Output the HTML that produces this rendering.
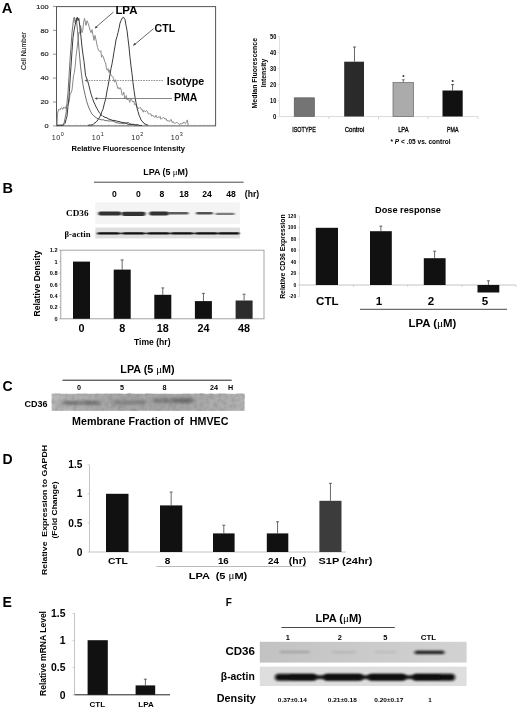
<!DOCTYPE html>
<html lang="en"><head><meta charset="utf-8"><title>Figure</title>
<style>
html,body{margin:0;padding:0;background:#fff}
svg{display:block;font-family:"Liberation Sans",sans-serif}
.sf{font-family:"Liberation Serif",serif}
</style></head><body>
<svg width="520" height="710" viewBox="0 0 520 710">
<defs>
<filter id="b1" x="-20%" y="-200%" width="140%" height="500%"><feGaussianBlur stdDeviation="1.1 0.7"/></filter>
<filter id="b3" x="-20%" y="-200%" width="140%" height="500%"><feGaussianBlur stdDeviation="0.9 0.5"/></filter>
<filter id="b4" x="-20%" y="-100%" width="140%" height="300%"><feGaussianBlur stdDeviation="1.6 1"/></filter>
<linearGradient id="gF" x1="0" x2="1" y1="0" y2="0"><stop offset="0" stop-color="#c2c2c2"/><stop offset="1" stop-color="#d2d2d2"/></linearGradient>
<linearGradient id="gC" x1="0" x2="1" y1="0" y2="0"><stop offset="0" stop-color="#b8b8b8"/><stop offset="0.35" stop-color="#a6a6a6"/><stop offset="0.7" stop-color="#a8a8a8"/><stop offset="1" stop-color="#b4b4b4"/></linearGradient>
<filter id="b2" x="-20%" y="-200%" width="140%" height="500%"><feGaussianBlur stdDeviation="2.6 1.5"/></filter>
<filter id="noise" x="0" y="0" width="100%" height="100%"><feTurbulence type="fractalNoise" baseFrequency="0.22" numOctaves="3" seed="3" result="n"/><feColorMatrix in="n" type="matrix" values="0 0 0 0 0  0 0 0 0 0  0 0 0 0 0  0.9 0 0 0 -0.3" result="a"/><feFlood flood-color="#808080"/><feComposite in2="a" operator="in" result="d"/><feMerge><feMergeNode in="SourceGraphic"/><feMergeNode in="d"/></feMerge></filter>
</defs>
<rect width="520" height="710" fill="#fff"/>
<text x="1.8" y="12.9" font-size="14.8" font-weight="bold">A</text>
<rect x="56.5" y="6.6" width="159.1" height="119.3" fill="none" stroke="#555" stroke-width="1"/>
<text x="48.6" y="8.600000000000005" font-size="5.9" text-anchor="end" textLength="12.3" lengthAdjust="spacingAndGlyphs" fill="#222" stroke="#222" stroke-width="0.15">100</text>
<line x1="53" y1="6.400000000000006" x2="56.5" y2="6.400000000000006" stroke="#666" stroke-width="0.7"/>
<text x="48.6" y="32.5" font-size="5.9" text-anchor="end" textLength="8.2" lengthAdjust="spacingAndGlyphs" fill="#222" stroke="#222" stroke-width="0.15">80</text>
<line x1="53" y1="30.299999999999997" x2="56.5" y2="30.299999999999997" stroke="#666" stroke-width="0.7"/>
<text x="48.6" y="56.400000000000006" font-size="5.9" text-anchor="end" textLength="8.2" lengthAdjust="spacingAndGlyphs" fill="#222" stroke="#222" stroke-width="0.15">60</text>
<line x1="53" y1="54.2" x2="56.5" y2="54.2" stroke="#666" stroke-width="0.7"/>
<text x="48.6" y="80.3" font-size="5.9" text-anchor="end" textLength="8.2" lengthAdjust="spacingAndGlyphs" fill="#222" stroke="#222" stroke-width="0.15">40</text>
<line x1="53" y1="78.1" x2="56.5" y2="78.1" stroke="#666" stroke-width="0.7"/>
<text x="48.6" y="104.2" font-size="5.9" text-anchor="end" textLength="8.2" lengthAdjust="spacingAndGlyphs" fill="#222" stroke="#222" stroke-width="0.15">20</text>
<line x1="53" y1="102.0" x2="56.5" y2="102.0" stroke="#666" stroke-width="0.7"/>
<text x="48.6" y="128.1" font-size="5.9" text-anchor="end" textLength="4.1" lengthAdjust="spacingAndGlyphs" fill="#222" stroke="#222" stroke-width="0.15">0</text>
<line x1="53" y1="125.9" x2="56.5" y2="125.9" stroke="#666" stroke-width="0.7"/>
<text x="51.7" y="139.6" font-size="7.2" fill="#222" letter-spacing="0.5">10<tspan dy="-3.2" font-size="5.4">0</tspan></text>
<text x="91.7" y="139.6" font-size="7.2" fill="#222" letter-spacing="0.5">10<tspan dy="-3.2" font-size="5.4">1</tspan></text>
<text x="131.2" y="139.6" font-size="7.2" fill="#222" letter-spacing="0.5">10<tspan dy="-3.2" font-size="5.4">2</tspan></text>
<text x="170.7" y="139.6" font-size="7.2" fill="#222" letter-spacing="0.5">10<tspan dy="-3.2" font-size="5.4">3</tspan></text>
<line x1="68.5" y1="126" x2="68.5" y2="124.6" stroke="#888" stroke-width="0.4"/>
<line x1="75.5" y1="126" x2="75.5" y2="124.6" stroke="#888" stroke-width="0.4"/>
<line x1="80.5" y1="126" x2="80.5" y2="124.6" stroke="#888" stroke-width="0.4"/>
<line x1="84.4" y1="126" x2="84.4" y2="124.6" stroke="#888" stroke-width="0.4"/>
<line x1="87.5" y1="126" x2="87.5" y2="124.6" stroke="#888" stroke-width="0.4"/>
<line x1="90.2" y1="126" x2="90.2" y2="124.6" stroke="#888" stroke-width="0.4"/>
<line x1="92.5" y1="126" x2="92.5" y2="124.6" stroke="#888" stroke-width="0.4"/>
<line x1="94.6" y1="126" x2="94.6" y2="124.6" stroke="#888" stroke-width="0.4"/>
<line x1="108.4" y1="126" x2="108.4" y2="124.6" stroke="#888" stroke-width="0.4"/>
<line x1="115.4" y1="126" x2="115.4" y2="124.6" stroke="#888" stroke-width="0.4"/>
<line x1="120.4" y1="126" x2="120.4" y2="124.6" stroke="#888" stroke-width="0.4"/>
<line x1="124.3" y1="126" x2="124.3" y2="124.6" stroke="#888" stroke-width="0.4"/>
<line x1="127.4" y1="126" x2="127.4" y2="124.6" stroke="#888" stroke-width="0.4"/>
<line x1="130.1" y1="126" x2="130.1" y2="124.6" stroke="#888" stroke-width="0.4"/>
<line x1="132.4" y1="126" x2="132.4" y2="124.6" stroke="#888" stroke-width="0.4"/>
<line x1="134.5" y1="126" x2="134.5" y2="124.6" stroke="#888" stroke-width="0.4"/>
<line x1="148.3" y1="126" x2="148.3" y2="124.6" stroke="#888" stroke-width="0.4"/>
<line x1="155.3" y1="126" x2="155.3" y2="124.6" stroke="#888" stroke-width="0.4"/>
<line x1="160.3" y1="126" x2="160.3" y2="124.6" stroke="#888" stroke-width="0.4"/>
<line x1="164.2" y1="126" x2="164.2" y2="124.6" stroke="#888" stroke-width="0.4"/>
<line x1="167.3" y1="126" x2="167.3" y2="124.6" stroke="#888" stroke-width="0.4"/>
<line x1="170.0" y1="126" x2="170.0" y2="124.6" stroke="#888" stroke-width="0.4"/>
<line x1="172.3" y1="126" x2="172.3" y2="124.6" stroke="#888" stroke-width="0.4"/>
<line x1="174.4" y1="126" x2="174.4" y2="124.6" stroke="#888" stroke-width="0.4"/>
<line x1="188.2" y1="126" x2="188.2" y2="124.6" stroke="#888" stroke-width="0.4"/>
<line x1="195.2" y1="126" x2="195.2" y2="124.6" stroke="#888" stroke-width="0.4"/>
<line x1="200.2" y1="126" x2="200.2" y2="124.6" stroke="#888" stroke-width="0.4"/>
<line x1="204.1" y1="126" x2="204.1" y2="124.6" stroke="#888" stroke-width="0.4"/>
<line x1="207.2" y1="126" x2="207.2" y2="124.6" stroke="#888" stroke-width="0.4"/>
<line x1="209.9" y1="126" x2="209.9" y2="124.6" stroke="#888" stroke-width="0.4"/>
<line x1="212.2" y1="126" x2="212.2" y2="124.6" stroke="#888" stroke-width="0.4"/>
<line x1="214.3" y1="126" x2="214.3" y2="124.6" stroke="#888" stroke-width="0.4"/>
<text x="26.4" y="51" font-size="6.3" text-anchor="middle" textLength="38" lengthAdjust="spacingAndGlyphs" transform="rotate(-90 26.4 51)" fill="#222" stroke="#222" stroke-width="0.12">Cell Number</text>
<text x="71.5" y="150.5" font-size="7.7" font-weight="bold" textLength="113.5" lengthAdjust="spacingAndGlyphs">Relative Fluorescence Intensity</text>
<polyline points="57.0,125.9 57.5,114.0 58.5,109.2 59.4,109.6 60.2,109.9 61.1,107.7 62.0,108.0 62.8,109.4 63.6,107.1 64.4,107.5 65.2,108.5 66.0,106.2 67.0,105.3 68.0,104.4 69.0,102.4 70.0,94.8 71.0,92.9 72.0,90.1 73.5,75.7 74.3,72.8 75.2,66.3 76.0,56.6 77.0,48.8 78.0,39.9 78.8,32.4 79.7,33.4 80.5,25.5 82.0,32.7 82.8,30.2 83.7,22.1 84.5,18.3 86.0,25.5 87.0,20.7 88.0,23.1 89.0,26.1 90.0,30.3 91.0,32.7 92.0,29.6 93.0,35.1 94.0,40.4 95.0,35.4 96.0,39.9 96.8,44.0 97.6,47.5 98.4,50.1 99.2,51.0 100.0,51.8 100.8,50.7 101.6,57.3 102.4,55.4 103.2,56.4 104.0,59.0 104.8,61.9 105.6,62.4 106.4,68.3 107.2,70.2 108.0,68.5 108.8,72.4 109.6,69.9 110.4,73.4 111.2,75.8 112.0,75.7 112.8,76.6 113.7,79.3 114.5,82.1 115.3,79.7 116.2,82.1 117.0,85.3 117.9,88.7 118.7,87.4 119.6,89.2 120.4,87.7 121.3,90.3 122.1,95.0 123.0,94.8 123.8,92.1 124.7,98.6 125.5,97.2 126.3,95.5 127.2,100.0 128.0,98.4 128.8,99.1 129.7,102.4 130.5,99.2 131.3,99.3 132.2,101.0 133.0,102.0 133.8,101.0 134.7,104.9 135.5,104.1 136.3,105.6 137.2,106.6 138.0,108.0 138.9,108.6 139.8,107.6 140.6,107.6 141.5,109.9 142.4,109.6 143.2,112.2 144.1,110.4 145.0,111.6 145.8,111.5 146.7,110.7 147.5,111.7 148.3,113.9 149.2,113.9 150.0,114.0 150.8,113.7 151.7,116.2 152.6,115.0 153.4,116.3 154.2,116.8 155.1,117.2 155.9,115.1 156.8,117.6 157.7,117.5 158.5,116.9 159.3,117.6 160.1,116.3 160.9,119.3 161.8,118.3 162.6,118.3 163.4,117.4 164.2,117.9 165.0,119.3 166.0,118.5 167.0,120.9 168.0,120.5 168.8,121.0 169.7,121.4 170.5,119.7 171.3,119.7 172.2,122.6 173.0,121.6 173.8,122.9 174.7,123.0 175.5,123.2 176.3,122.6 177.2,122.5 178.0,123.0 178.8,123.9 179.7,124.9 180.5,123.5 181.3,123.8 182.2,123.2 183.0,123.5 183.8,122.0 184.7,123.0 185.5,123.7 186.4,121.8 187.3,119.9 188.3,125.5" fill="none" stroke="#8c8c8c" stroke-width="1.0" stroke-linejoin="round"/>
<polyline points="57.0,125.3 58.0,125.2 59.0,125.2 60.0,125.7 61.0,125.0 62.0,125.3 63.0,124.2 64.0,123.5 65.0,118.4 66.0,114.0 67.0,102.8 68.0,92.4 69.0,76.5 70.0,60.2 71.0,46.6 72.0,32.7 73.5,19.5 74.3,17.2 75.3,23.1 76.3,18.3 77.5,30.3 79.0,49.4 80.5,66.2 82.0,78.1 83.0,84.8 84.0,90.1 85.2,95.2 86.5,100.8 87.8,104.9 89.0,108.0 90.0,110.3 91.0,112.2 92.0,114.0 93.0,115.1 94.0,115.9 95.0,117.0 96.0,117.5 97.0,118.4 98.0,118.7 99.0,119.2 100.0,119.3 101.0,119.6 102.0,120.1 103.0,119.6 104.0,120.0 105.0,120.6 106.0,120.5 107.0,120.8 108.0,120.8 109.0,120.9 110.0,121.2 111.0,120.7 112.0,121.1 113.0,121.0 114.0,121.7 115.0,122.0 116.0,122.6 117.0,122.9 118.0,122.9 119.0,123.1 120.0,123.3 121.0,122.9 122.0,123.6 123.0,123.8 124.0,123.5 125.0,122.8 126.0,122.9 127.0,122.9 128.0,122.3 129.0,122.9 130.0,123.9 131.0,124.1 132.0,124.7 133.0,124.4 134.0,124.6 135.0,124.8 136.0,125.3 137.0,125.3 138,125.3" fill="none" stroke="#707070" stroke-width="1.0" stroke-linejoin="round"/>
<polyline points="57.0,125.3 58.0,125.6 59.0,125.1 60.0,125.3 61.0,125.1 62.0,125.4 63.0,125.3 64.0,124.6 65.0,123.5 66.0,119.7 67.0,116.3 68.0,106.3 69.0,97.2 70.0,81.0 71.0,66.2 72.0,51.2 73.0,37.5 74.0,30.9 75.0,25.5 76.5,19.5 77.3,17.2 78.0,20.7 78.8,18.3 80.0,27.9 81.0,37.0 82.0,47.0 83.0,54.7 84.0,61.4 85.6,75.7 87.5,80.5 88.8,85.2 90.0,90.1 91.2,94.5 92.5,98.4 93.8,102.0 95.0,104.4 96.0,106.9 97.0,108.6 98.0,110.4 99.0,112.2 100.0,113.4 101.0,115.1 102.0,115.4 103.0,116.4 104.0,116.6 105.0,117.5 106.0,117.5 107.0,117.9 108.0,118.7 109.0,119.2 110.0,119.3 111.0,119.8 112.0,120.2 113.0,120.5 114.0,120.4 115.0,120.5 116.0,121.1 117.0,121.0 118.0,121.5 119.0,121.6 120.0,121.7 121.0,122.4 122.0,122.3 123.0,122.5 124.0,122.6 125.0,123.0 126.0,123.3 127.0,123.8 128.0,124.1 129.0,124.5 130.0,124.1 131.0,124.5 132.0,124.3 133.0,124.2 134.0,124.7 135.0,124.9 136.0,124.9 137.0,124.6 138.0,124.8 139.0,125.3 140.0,125.5 141.0,125.5 142,125.3" fill="none" stroke="#3a3a3a" stroke-width="1.0" stroke-linejoin="round"/>
<polyline points="88.0,125.5 89.0,125.0 90.0,125.0 91.0,125.3 92.0,124.6 93.0,124.7 94.0,123.4 95.0,122.8 96.0,122.1 97.0,121.1 98.0,119.5 99.0,118.2 100.0,116.3 101.0,114.3 102.0,111.2 103.0,109.2 104.0,105.0 105.0,101.2 106.0,97.2 107.0,90.9 108.0,86.2 109.0,80.5 110.0,74.2 111.0,68.7 112.0,63.8 113.0,58.3 114.0,51.8 115.0,46.3 116.0,39.9 117.0,36.7 118.0,32.7 119.0,28.4 120.0,23.1 121.0,20.6 122.0,18.3 123.5,17.2 125.0,19.5 126.0,25.4 127.0,30.3 128.0,38.8 129.0,47.0 130.0,57.3 131.0,66.2 132.0,73.7 133.0,82.9 134.0,90.3 135.0,97.2 136.0,102.6 137.0,108.0 138.0,111.5 139.0,115.1 140.0,117.2 141.0,119.9 142.0,121.2 143.0,122.0 144.0,123.5 145.0,124.0 146.0,124.4 147.0,124.8 148,125.3" fill="none" stroke="#3a3a3a" stroke-width="1.0" stroke-linejoin="round"/>
<line x1="113.5" y1="12" x2="95" y2="28" stroke="#444" stroke-width="0.8"/>
<path d="M94.6 28.6 l3.2 -1 l-1.8 -1.9z" fill="#444"/>
<line x1="153.6" y1="28.6" x2="133.6" y2="45.4" stroke="#444" stroke-width="0.8"/>
<path d="M133 45.6 l3.2 -1 l-1.8 -1.9z" fill="#444"/>
<line x1="86" y1="80.5" x2="163" y2="80.5" stroke="#777" stroke-width="0.8" stroke-dasharray="1.6 1"/>
<path d="M84.6 80.5 l2.6 -1.3 v2.6z" fill="#555"/>
<line x1="96" y1="98.5" x2="172" y2="98.5" stroke="#666" stroke-width="0.8"/>
<path d="M94.6 98.5 l2.6 -1.3 v2.6z" fill="#444"/>
<text x="115.4" y="14.4" font-size="11.5" font-weight="bold" textLength="22" lengthAdjust="spacingAndGlyphs">LPA</text>
<text x="154.6" y="31.9" font-size="11" font-weight="bold" textLength="20.5" lengthAdjust="spacingAndGlyphs">CTL</text>
<text x="166.8" y="84.8" font-size="11.2" font-weight="bold" textLength="37.5" lengthAdjust="spacingAndGlyphs">Isotype</text>
<text x="174" y="101.3" font-size="11" font-weight="bold" textLength="23.5" lengthAdjust="spacingAndGlyphs">PMA</text>
<line x1="279.5" y1="36" x2="279.5" y2="116.5" stroke="#e2e2e2" stroke-width="1"/>
<line x1="279.5" y1="116.5" x2="478" y2="116.5" stroke="#dcdcdc" stroke-width="1"/>
<text x="276.3" y="119.2" font-size="7.5" font-weight="bold" text-anchor="end" textLength="3.3" lengthAdjust="spacingAndGlyphs">0</text>
<line x1="277.5" y1="116.5" x2="279.5" y2="116.5" stroke="#dcdcdc" stroke-width="0.8"/>
<text x="276.3" y="103.2" font-size="7.5" font-weight="bold" text-anchor="end" textLength="6.2" lengthAdjust="spacingAndGlyphs">10</text>
<line x1="277.5" y1="100.5" x2="279.5" y2="100.5" stroke="#dcdcdc" stroke-width="0.8"/>
<text x="276.3" y="87.2" font-size="7.5" font-weight="bold" text-anchor="end" textLength="6.2" lengthAdjust="spacingAndGlyphs">20</text>
<line x1="277.5" y1="84.5" x2="279.5" y2="84.5" stroke="#dcdcdc" stroke-width="0.8"/>
<text x="276.3" y="71.2" font-size="7.5" font-weight="bold" text-anchor="end" textLength="6.2" lengthAdjust="spacingAndGlyphs">30</text>
<line x1="277.5" y1="68.5" x2="279.5" y2="68.5" stroke="#dcdcdc" stroke-width="0.8"/>
<text x="276.3" y="55.2" font-size="7.5" font-weight="bold" text-anchor="end" textLength="6.2" lengthAdjust="spacingAndGlyphs">40</text>
<line x1="277.5" y1="52.5" x2="279.5" y2="52.5" stroke="#dcdcdc" stroke-width="0.8"/>
<text x="276.3" y="39.2" font-size="7.5" font-weight="bold" text-anchor="end" textLength="6.2" lengthAdjust="spacingAndGlyphs">50</text>
<line x1="277.5" y1="36.5" x2="279.5" y2="36.5" stroke="#dcdcdc" stroke-width="0.8"/>
<line x1="329" y1="116.5" x2="329" y2="119.0" stroke="#c8c8c8" stroke-width="0.8"/>
<line x1="378.5" y1="116.5" x2="378.5" y2="119.0" stroke="#c8c8c8" stroke-width="0.8"/>
<line x1="428" y1="116.5" x2="428" y2="119.0" stroke="#c8c8c8" stroke-width="0.8"/>
<line x1="478" y1="116.5" x2="478" y2="119.0" stroke="#c8c8c8" stroke-width="0.8"/>
<rect x="294.2" y="97.8" width="20.3" height="18.7" fill="#747474" stroke="#555" stroke-width="0.6"/>
<line x1="354.5" y1="61.7" x2="354.5" y2="47" stroke="#444" stroke-width="0.8"/>
<line x1="353.0" y1="47" x2="356.0" y2="47" stroke="#444" stroke-width="0.8"/>
<rect x="344.2" y="61.7" width="19.8" height="54.8" fill="#2a2a2a"/>
<line x1="403.3" y1="82.5" x2="403.3" y2="79.8" stroke="#555" stroke-width="0.8"/>
<line x1="401.8" y1="79.8" x2="404.8" y2="79.8" stroke="#555" stroke-width="0.8"/>
<rect x="393" y="82.5" width="20.5" height="34" fill="#ababab" stroke="#666" stroke-width="0.7"/>
<line x1="452.6" y1="90.5" x2="452.6" y2="84.6" stroke="#333" stroke-width="0.8"/>
<line x1="451.1" y1="84.6" x2="454.1" y2="84.6" stroke="#333" stroke-width="0.8"/>
<rect x="442.5" y="90.5" width="20.2" height="26" fill="#111"/>
<text x="403.3" y="79" font-size="6" font-weight="bold" text-anchor="middle">*</text>
<text x="452.6" y="83.6" font-size="6" font-weight="bold" text-anchor="middle">*</text>
<text x="304" y="131.6" font-size="7.4" text-anchor="middle" textLength="23.5" lengthAdjust="spacingAndGlyphs" stroke="#000" stroke-width="0.3">ISOTYPE</text>
<text x="354.5" y="131.6" font-size="7.4" text-anchor="middle" textLength="19.5" lengthAdjust="spacingAndGlyphs" stroke="#000" stroke-width="0.3">Control</text>
<text x="403.4" y="131.6" font-size="7.4" text-anchor="middle" textLength="10.5" lengthAdjust="spacingAndGlyphs" stroke="#000" stroke-width="0.3">LPA</text>
<text x="452.7" y="131.6" font-size="7.4" text-anchor="middle" textLength="11.5" lengthAdjust="spacingAndGlyphs" stroke="#000" stroke-width="0.3">PMA</text>
<text x="390.5" y="143.6" font-size="7.2" font-weight="bold" textLength="60" lengthAdjust="spacingAndGlyphs">* <tspan font-style="italic">P</tspan> &lt; .05 vs. control</text>
<text x="257.4" y="73.2" font-size="7.6" font-weight="bold" text-anchor="middle" textLength="70.5" lengthAdjust="spacingAndGlyphs" transform="rotate(-90 257.4 73.2)">Median Fluorescence</text>
<text x="266" y="73" font-size="7.6" font-weight="bold" text-anchor="middle" textLength="28.5" lengthAdjust="spacingAndGlyphs" transform="rotate(-90 266 73)">Intensity</text>
<text x="2.5" y="193.2" font-size="14.5" font-weight="bold">B</text>
<text x="165.6" y="175.3" font-size="8.9" font-weight="bold" text-anchor="middle">LPA (5 <tspan class="sf" font-weight="normal">μ</tspan>M)</text>
<line x1="94" y1="182.2" x2="243.6" y2="182.2" stroke="#333" stroke-width="0.9"/>
<text x="114.5" y="197.4" font-size="8.6" font-weight="bold" text-anchor="middle">0</text>
<text x="138.4" y="197.4" font-size="8.6" font-weight="bold" text-anchor="middle">0</text>
<text x="162" y="197.4" font-size="8.6" font-weight="bold" text-anchor="middle">8</text>
<text x="184" y="197.4" font-size="8.6" font-weight="bold" text-anchor="middle">18</text>
<text x="207" y="197.4" font-size="8.6" font-weight="bold" text-anchor="middle">24</text>
<text x="231" y="197.4" font-size="8.6" font-weight="bold" text-anchor="middle">48</text>
<text x="252" y="197.4" font-size="8.6" font-weight="bold" text-anchor="middle">(hr)</text>
<text x="66" y="216" font-size="8.2" font-weight="bold" textLength="22.5" lengthAdjust="spacingAndGlyphs" class="sf">CD36</text>
<text x="64.5" y="237" font-size="8.2" font-weight="bold" textLength="26" lengthAdjust="spacingAndGlyphs" class="sf">β-actin</text>
<rect x="95.3" y="202.4" width="144.6" height="21.4" fill="#f4f4f4"/>
<rect x="95.3" y="227.6" width="144.6" height="10.8" fill="#dedede"/>
<rect x="98.2" y="211.6" width="23.2" height="4" rx="2.0" fill="#1c1c1c" opacity="0.9" filter="url(#b1)"/>
<rect x="121.6" y="211.7" width="24.0" height="4.2" rx="2.1" fill="#1c1c1c" opacity="0.9" filter="url(#b1)"/>
<rect x="149.2" y="211.6" width="19.6" height="4" rx="2.0" fill="#1c1c1c" opacity="0.9" filter="url(#b1)"/>
<rect x="168.0" y="212.0" width="20.5" height="2.4" rx="1.2" fill="#1c1c1c" opacity="0.7" filter="url(#b1)"/>
<rect x="196.0" y="212.0" width="17" height="2.6" rx="1.3" fill="#1c1c1c" opacity="0.75" filter="url(#b1)"/>
<rect x="215.5" y="212.8" width="19.1" height="2.2" rx="1.1" fill="#1c1c1c" opacity="0.55" filter="url(#b1)"/>
<rect x="97" y="232.6" width="141" height="1.6" fill="#222" filter="url(#b3)" opacity="0.85"/>
<rect x="98.0" y="232.2" width="21" height="2.4" rx="1.2" fill="#111" opacity="0.9" filter="url(#b3)"/>
<rect x="123.0" y="232.2" width="21" height="2.4" rx="1.2" fill="#111" opacity="0.9" filter="url(#b3)"/>
<rect x="148.0" y="232.2" width="21" height="2.4" rx="1.2" fill="#111" opacity="0.9" filter="url(#b3)"/>
<rect x="171.5" y="232.2" width="21" height="2.4" rx="1.2" fill="#111" opacity="0.9" filter="url(#b3)"/>
<rect x="196.0" y="232.2" width="21" height="2.4" rx="1.2" fill="#111" opacity="0.9" filter="url(#b3)"/>
<rect x="218.5" y="232.2" width="21" height="2.4" rx="1.2" fill="#111" opacity="0.9" filter="url(#b3)"/>
<rect x="60.8" y="250.2" width="203.2" height="68.60000000000002" fill="none" stroke="#9a9a9a" stroke-width="0.9"/>
<text x="57.5" y="252.29999999999998" font-size="5.6" font-weight="bold" text-anchor="end">1.2</text>
<line x1="59.3" y1="250.2" x2="60.8" y2="250.2" stroke="#9a9a9a" stroke-width="0.7"/>
<text x="57.5" y="263.73333333333335" font-size="5.6" font-weight="bold" text-anchor="end">1</text>
<line x1="59.3" y1="261.6333333333333" x2="60.8" y2="261.6333333333333" stroke="#9a9a9a" stroke-width="0.7"/>
<text x="57.5" y="275.1666666666667" font-size="5.6" font-weight="bold" text-anchor="end">0.8</text>
<line x1="59.3" y1="273.06666666666666" x2="60.8" y2="273.06666666666666" stroke="#9a9a9a" stroke-width="0.7"/>
<text x="57.5" y="286.6" font-size="5.6" font-weight="bold" text-anchor="end">0.6</text>
<line x1="59.3" y1="284.5" x2="60.8" y2="284.5" stroke="#9a9a9a" stroke-width="0.7"/>
<text x="57.5" y="298.03333333333336" font-size="5.6" font-weight="bold" text-anchor="end">0.4</text>
<line x1="59.3" y1="295.93333333333334" x2="60.8" y2="295.93333333333334" stroke="#9a9a9a" stroke-width="0.7"/>
<text x="57.5" y="309.4666666666667" font-size="5.6" font-weight="bold" text-anchor="end">0.2</text>
<line x1="59.3" y1="307.3666666666667" x2="60.8" y2="307.3666666666667" stroke="#9a9a9a" stroke-width="0.7"/>
<text x="57.5" y="320.90000000000003" font-size="5.6" font-weight="bold" text-anchor="end">0</text>
<line x1="59.3" y1="318.8" x2="60.8" y2="318.8" stroke="#9a9a9a" stroke-width="0.7"/>
<rect x="73.0" y="261.6" width="17" height="57.2" fill="#111"/>
<text x="81.5" y="331.6" font-size="10.8" font-weight="bold" text-anchor="middle">0</text>
<line x1="122.16" y1="269.63666666666666" x2="122.16" y2="259.9183333333333" stroke="#444" stroke-width="0.8"/>
<line x1="120.66" y1="259.9183333333333" x2="123.66" y2="259.9183333333333" stroke="#444" stroke-width="0.8"/>
<rect x="113.7" y="269.6" width="17" height="49.2" fill="#111"/>
<text x="122.2" y="331.6" font-size="10.8" font-weight="bold" text-anchor="middle">8</text>
<line x1="162.79999999999998" y1="294.79" x2="162.79999999999998" y2="287.93" stroke="#444" stroke-width="0.8"/>
<line x1="161.29999999999998" y1="287.93" x2="164.29999999999998" y2="287.93" stroke="#444" stroke-width="0.8"/>
<rect x="154.3" y="294.8" width="17" height="24.0" fill="#111"/>
<text x="162.8" y="331.6" font-size="10.8" font-weight="bold" text-anchor="middle">18</text>
<line x1="203.44000000000003" y1="301.0783333333333" x2="203.44000000000003" y2="293.36083333333335" stroke="#444" stroke-width="0.8"/>
<line x1="201.94000000000003" y1="293.36083333333335" x2="204.94000000000003" y2="293.36083333333335" stroke="#444" stroke-width="0.8"/>
<rect x="194.9" y="301.1" width="17" height="17.7" fill="#111"/>
<text x="203.4" y="331.6" font-size="10.8" font-weight="bold" text-anchor="middle">24</text>
<line x1="244.08" y1="300.50666666666666" x2="244.08" y2="294.21833333333336" stroke="#444" stroke-width="0.8"/>
<line x1="242.58" y1="294.21833333333336" x2="245.58" y2="294.21833333333336" stroke="#444" stroke-width="0.8"/>
<rect x="235.6" y="300.5" width="17" height="18.3" fill="#2c2c2c"/>
<text x="244.1" y="331.6" font-size="10.8" font-weight="bold" text-anchor="middle">48</text>
<text x="134" y="344.8" font-size="8.8" font-weight="bold" textLength="36.5" lengthAdjust="spacingAndGlyphs">Time (hr)</text>
<text x="40.3" y="283.5" font-size="9" font-weight="bold" text-anchor="middle" textLength="66" lengthAdjust="spacingAndGlyphs" transform="rotate(-90 40.3 283.5)">Relative Density</text>
<text x="375" y="213" font-size="9.6" font-weight="bold" textLength="66" lengthAdjust="spacingAndGlyphs">Dose response</text>
<line x1="299.5" y1="216" x2="299.5" y2="296.6" stroke="#dcdcdc" stroke-width="1"/>
<line x1="299.5" y1="285.0" x2="516" y2="285.0" stroke="#c4c4c4" stroke-width="1"/>
<text x="296.2" y="298.4" font-size="5" font-weight="bold" text-anchor="end">-20</text>
<line x1="298.0" y1="296.5" x2="299.5" y2="296.5" stroke="#c4c4c4" stroke-width="0.7"/>
<text x="296.2" y="286.9" font-size="5" font-weight="bold" text-anchor="end">0</text>
<line x1="298.0" y1="285.0" x2="299.5" y2="285.0" stroke="#c4c4c4" stroke-width="0.7"/>
<text x="296.2" y="275.4" font-size="5" font-weight="bold" text-anchor="end">20</text>
<line x1="298.0" y1="273.5" x2="299.5" y2="273.5" stroke="#c4c4c4" stroke-width="0.7"/>
<text x="296.2" y="263.9" font-size="5" font-weight="bold" text-anchor="end">40</text>
<line x1="298.0" y1="262.0" x2="299.5" y2="262.0" stroke="#c4c4c4" stroke-width="0.7"/>
<text x="296.2" y="252.4" font-size="5" font-weight="bold" text-anchor="end">60</text>
<line x1="298.0" y1="250.5" x2="299.5" y2="250.5" stroke="#c4c4c4" stroke-width="0.7"/>
<text x="296.2" y="240.9" font-size="5" font-weight="bold" text-anchor="end">80</text>
<line x1="298.0" y1="239.0" x2="299.5" y2="239.0" stroke="#c4c4c4" stroke-width="0.7"/>
<text x="296.2" y="229.4" font-size="5" font-weight="bold" text-anchor="end">100</text>
<line x1="298.0" y1="227.5" x2="299.5" y2="227.5" stroke="#c4c4c4" stroke-width="0.7"/>
<text x="296.2" y="217.9" font-size="5" font-weight="bold" text-anchor="end">120</text>
<line x1="298.0" y1="216.0" x2="299.5" y2="216.0" stroke="#c4c4c4" stroke-width="0.7"/>
<line x1="353.6" y1="285.0" x2="353.6" y2="287.0" stroke="#c4c4c4" stroke-width="0.7"/>
<line x1="407.7" y1="285.0" x2="407.7" y2="287.0" stroke="#c4c4c4" stroke-width="0.7"/>
<line x1="461.8" y1="285.0" x2="461.8" y2="287.0" stroke="#c4c4c4" stroke-width="0.7"/>
<line x1="516" y1="285.0" x2="516" y2="287.0" stroke="#c4c4c4" stroke-width="0.7"/>
<line x1="380.9" y1="231.2" x2="380.9" y2="226.2" stroke="#444" stroke-width="0.8"/>
<line x1="379.4" y1="226.2" x2="382.4" y2="226.2" stroke="#444" stroke-width="0.8"/>
<line x1="434.6" y1="258.2" x2="434.6" y2="251.2" stroke="#444" stroke-width="0.8"/>
<line x1="433.1" y1="251.2" x2="436.1" y2="251.2" stroke="#444" stroke-width="0.8"/>
<line x1="488.4" y1="285" x2="488.4" y2="280.8" stroke="#444" stroke-width="0.8"/>
<line x1="486.9" y1="280.8" x2="489.9" y2="280.8" stroke="#444" stroke-width="0.8"/>
<rect x="315.8" y="227.8" width="22.2" height="57.2" fill="#111"/>
<rect x="370" y="231.2" width="21.8" height="53.8" fill="#111"/>
<rect x="423.8" y="258.2" width="21.8" height="26.8" fill="#111"/>
<rect x="477.5" y="285" width="21.8" height="7.5" fill="#111"/>
<text x="327.3" y="305.4" font-size="11.8" font-weight="bold" text-anchor="middle" textLength="22.5" lengthAdjust="spacingAndGlyphs">CTL</text>
<text x="379" y="305.4" font-size="11.6" font-weight="bold" text-anchor="middle">1</text>
<text x="431" y="305.4" font-size="11.6" font-weight="bold" text-anchor="middle">2</text>
<text x="485" y="305.4" font-size="11.6" font-weight="bold" text-anchor="middle">5</text>
<line x1="360" y1="309.3" x2="507" y2="309.3" stroke="#333" stroke-width="0.9"/>
<text x="408.5" y="327" font-size="11.4" font-weight="bold">LPA (<tspan class="sf" font-weight="normal">μ</tspan>M)</text>
<text x="284.8" y="256.6" font-size="7.4" font-weight="bold" text-anchor="middle" textLength="84.5" lengthAdjust="spacingAndGlyphs" transform="rotate(-90 284.8 256.6)">Relative CD36 Expression</text>
<text x="2.5" y="391" font-size="14" font-weight="bold">C</text>
<text x="147.5" y="373.2" font-size="10.8" font-weight="bold" text-anchor="middle">LPA (5 <tspan class="sf" font-weight="normal">μ</tspan>M)</text>
<line x1="62.5" y1="380.2" x2="231.7" y2="380.2" stroke="#222" stroke-width="1"/>
<text x="79" y="390.4" font-size="7.2" font-weight="bold" text-anchor="middle">0</text>
<text x="122" y="390.4" font-size="7.2" font-weight="bold" text-anchor="middle">5</text>
<text x="164.4" y="390.4" font-size="7.2" font-weight="bold" text-anchor="middle">8</text>
<text x="214" y="390.4" font-size="7.2" font-weight="bold" text-anchor="middle">24</text>
<text x="230.6" y="390.4" font-size="7.2" font-weight="bold" text-anchor="middle">H</text>
<text x="24.5" y="406.8" font-size="8.4" font-weight="bold" textLength="23" lengthAdjust="spacingAndGlyphs">CD36</text>
<g filter="url(#noise)">
<rect x="51.8" y="393.8" width="192.7" height="17" fill="url(#gC)"/>
</g>
<rect x="62.0" y="400.9" width="20" height="4.2" rx="2.1" fill="#3a3a3a" opacity="0.5" filter="url(#b2)"/>
<rect x="82.0" y="400.9" width="19" height="4.2" rx="2.1" fill="#3a3a3a" opacity="0.5" filter="url(#b2)"/>
<rect x="112.0" y="400.4" width="34" height="4.2" rx="2.1" fill="#3a3a3a" opacity="0.32" filter="url(#b2)"/>
<rect x="152.0" y="398.5" width="42" height="4.2" rx="2.1" fill="#3a3a3a" opacity="0.4" filter="url(#b2)"/>
<rect x="174.0" y="398.3" width="19" height="4.2" rx="2.1" fill="#3a3a3a" opacity="0.28" filter="url(#b2)"/>
<text x="72" y="424.6" font-size="10.6" font-weight="bold" textLength="156.5" lengthAdjust="spacingAndGlyphs" style="white-space:pre">Membrane Fraction of  HMVEC</text>
<text x="2.5" y="464" font-size="14" font-weight="bold">D</text>
<line x1="89.5" y1="465" x2="89.5" y2="552.0" stroke="#c4c4c4" stroke-width="1"/>
<line x1="89.5" y1="552.0" x2="346" y2="552.0" stroke="#c4c4c4" stroke-width="1"/>
<text x="82.5" y="468.3" font-size="10.2" font-weight="bold" text-anchor="end">1.5</text>
<line x1="87.5" y1="464.7" x2="89.5" y2="464.7" stroke="#c4c4c4" stroke-width="0.8"/>
<text x="82.5" y="497.40000000000003" font-size="10.2" font-weight="bold" text-anchor="end">1</text>
<line x1="87.5" y1="493.8" x2="89.5" y2="493.8" stroke="#c4c4c4" stroke-width="0.8"/>
<text x="82.5" y="526.5" font-size="10.2" font-weight="bold" text-anchor="end">0.5</text>
<line x1="87.5" y1="522.9" x2="89.5" y2="522.9" stroke="#c4c4c4" stroke-width="0.8"/>
<text x="82.5" y="555.6" font-size="10.2" font-weight="bold" text-anchor="end">0</text>
<line x1="87.5" y1="552.0" x2="89.5" y2="552.0" stroke="#c4c4c4" stroke-width="0.8"/>
<rect x="106" y="493.8" width="22.5" height="58.2" fill="#111"/>
<line x1="171.15" y1="505.44" x2="171.15" y2="492.054" stroke="#444" stroke-width="0.8"/>
<line x1="169.65" y1="492.054" x2="172.65" y2="492.054" stroke="#444" stroke-width="0.8"/>
<rect x="160" y="505.4" width="22.3" height="46.6" fill="#111"/>
<line x1="223.8" y1="533.376" x2="223.8" y2="525.228" stroke="#444" stroke-width="0.8"/>
<line x1="222.3" y1="525.228" x2="225.3" y2="525.228" stroke="#444" stroke-width="0.8"/>
<rect x="213" y="533.4" width="21.6" height="18.6" fill="#111"/>
<line x1="277.55" y1="533.376" x2="277.55" y2="521.736" stroke="#444" stroke-width="0.8"/>
<line x1="276.05" y1="521.736" x2="279.05" y2="521.736" stroke="#444" stroke-width="0.8"/>
<rect x="266.8" y="533.4" width="21.5" height="18.6" fill="#111"/>
<line x1="330.45" y1="500.784" x2="330.45" y2="483.324" stroke="#444" stroke-width="0.8"/>
<line x1="328.95" y1="483.324" x2="331.95" y2="483.324" stroke="#444" stroke-width="0.8"/>
<rect x="319.4" y="500.8" width="22.1" height="51.2" fill="#3c3c3c"/>
<text x="117.9" y="563.5" font-size="9.4" font-weight="bold" text-anchor="middle" textLength="20" lengthAdjust="spacingAndGlyphs">CTL</text>
<text x="167.6" y="563.5" font-size="9.4" font-weight="bold" text-anchor="middle" textLength="5.6" lengthAdjust="spacingAndGlyphs">8</text>
<text x="223.3" y="563.5" font-size="9.4" font-weight="bold" text-anchor="middle" textLength="10.8" lengthAdjust="spacingAndGlyphs">16</text>
<text x="273.4" y="563.5" font-size="9.4" font-weight="bold" text-anchor="middle" textLength="10.8" lengthAdjust="spacingAndGlyphs">24</text>
<text x="297.5" y="563.5" font-size="9.4" font-weight="bold" text-anchor="middle" textLength="17.4" lengthAdjust="spacingAndGlyphs">(hr)</text>
<text x="318.5" y="563.5" font-size="9.4" font-weight="bold" textLength="54" lengthAdjust="spacingAndGlyphs">S1P (24hr)</text>
<line x1="156.6" y1="566.5" x2="306" y2="566.5" stroke="#aaa" stroke-width="0.8"/>
<text x="188.8" y="579.4" font-size="9.4" font-weight="bold" style="white-space:pre" textLength="58.5" lengthAdjust="spacingAndGlyphs">LPA  (5 <tspan class="sf" font-weight="normal">μ</tspan>M)</text>
<text x="46.8" y="510" font-size="7.8" font-weight="bold" text-anchor="middle" textLength="130" lengthAdjust="spacingAndGlyphs" transform="rotate(-90 46.8 510)" style="white-space:pre">Relative  Expression to GAPDH</text>
<text x="56.6" y="510" font-size="7.8" font-weight="bold" text-anchor="middle" textLength="57" lengthAdjust="spacingAndGlyphs" transform="rotate(-90 56.6 510)">(Fold Change)</text>
<text x="2.5" y="607" font-size="14" font-weight="bold">E</text>
<line x1="74.5" y1="613" x2="74.5" y2="694.8" stroke="#c4c4c4" stroke-width="1"/>
<line x1="74.5" y1="694.8" x2="170" y2="694.8" stroke="#222" stroke-width="1"/>
<text x="65.5" y="617.2" font-size="10.4" font-weight="bold" text-anchor="end">1.5</text>
<line x1="72.5" y1="613.5" x2="74.5" y2="613.5" stroke="#c4c4c4" stroke-width="0.8"/>
<text x="65.5" y="644.3" font-size="10.4" font-weight="bold" text-anchor="end">1</text>
<line x1="72.5" y1="640.5999999999999" x2="74.5" y2="640.5999999999999" stroke="#c4c4c4" stroke-width="0.8"/>
<text x="65.5" y="671.4" font-size="10.4" font-weight="bold" text-anchor="end">0.5</text>
<line x1="72.5" y1="667.6999999999999" x2="74.5" y2="667.6999999999999" stroke="#c4c4c4" stroke-width="0.8"/>
<text x="65.5" y="698.5" font-size="10.4" font-weight="bold" text-anchor="end">0</text>
<line x1="72.5" y1="694.8" x2="74.5" y2="694.8" stroke="#c4c4c4" stroke-width="0.8"/>
<rect x="87.6" y="640.2" width="20.2" height="54.6" fill="#111"/>
<line x1="145.4" y1="685.4" x2="145.4" y2="679.2" stroke="#444" stroke-width="0.8"/>
<line x1="143.9" y1="679.2" x2="146.9" y2="679.2" stroke="#444" stroke-width="0.8"/>
<rect x="135.6" y="685.4" width="19.6" height="9.4" fill="#111"/>
<text x="97.3" y="707.3" font-size="8" font-weight="bold" text-anchor="middle">CTL</text>
<text x="146" y="707.3" font-size="8" font-weight="bold" text-anchor="middle">LPA</text>
<text x="45.5" y="653.5" font-size="8.4" font-weight="bold" text-anchor="middle" textLength="85" lengthAdjust="spacingAndGlyphs" transform="rotate(-90 45.5 653.5)">Relative mRNA Level</text>
<text x="225.8" y="605.8" font-size="10" font-weight="bold">F</text>
<text x="315.5" y="621.6" font-size="11" font-weight="bold">LPA (<tspan class="sf" font-weight="normal">μ</tspan>M)</text>
<line x1="281.4" y1="627.5" x2="394.8" y2="627.5" stroke="#333" stroke-width="0.9"/>
<text x="287.8" y="639.6" font-size="7.4" font-weight="bold" text-anchor="middle">1</text>
<text x="339.8" y="639.6" font-size="7.4" font-weight="bold" text-anchor="middle">2</text>
<text x="385.2" y="639.6" font-size="7.4" font-weight="bold" text-anchor="middle">5</text>
<text x="428.5" y="639.8" font-size="8" font-weight="bold" text-anchor="middle" textLength="15.4" lengthAdjust="spacingAndGlyphs">CTL</text>
<text x="225.4" y="654.8" font-size="11.6" font-weight="bold" textLength="29.5" lengthAdjust="spacingAndGlyphs">CD36</text>
<text x="220.8" y="680" font-size="11.6" font-weight="bold" textLength="34" lengthAdjust="spacingAndGlyphs">β-actin</text>
<text x="216.8" y="702.4" font-size="11.6" font-weight="bold" textLength="39" lengthAdjust="spacingAndGlyphs">Density</text>
<rect x="259.8" y="641.8" width="206.8" height="20.8" fill="url(#gF)"/>
<rect x="259.8" y="666.6" width="206.8" height="19.4" fill="#dedede"/>
<rect x="280.0" y="650.9" width="30" height="2.2" rx="1.1" fill="#444" opacity="0.3" filter="url(#b4)"/>
<rect x="332.0" y="651.2" width="24" height="2" rx="1.0" fill="#444" opacity="0.16" filter="url(#b4)"/>
<rect x="375.0" y="651.2" width="22" height="2" rx="1.0" fill="#444" opacity="0.12" filter="url(#b4)"/>
<rect x="414.5" y="650.7" width="30" height="3.4" rx="1.7" fill="#111" opacity="0.95" filter="url(#b4)"/>
<rect x="275.0" y="673.7" width="41.60000000000002" height="7" rx="3.5" fill="#0a0a0a" opacity="1" filter="url(#b4)"/>
<rect x="323.5" y="673.7" width="39.5" height="7" rx="3.5" fill="#0a0a0a" opacity="1" filter="url(#b4)"/>
<rect x="368.0" y="673.7" width="38" height="7" rx="3.5" fill="#0a0a0a" opacity="1" filter="url(#b4)"/>
<rect x="412.5" y="673.7" width="42.5" height="7" rx="3.5" fill="#0a0a0a" opacity="1" filter="url(#b4)"/>
<rect x="290" y="675.4" width="150" height="3.6" fill="#0a0a0a" filter="url(#b4)"/>
<text x="292.3" y="702" font-size="6.2" font-weight="bold" text-anchor="middle" textLength="29" lengthAdjust="spacingAndGlyphs">0.37±0.14</text>
<text x="342.3" y="702" font-size="6.2" font-weight="bold" text-anchor="middle" textLength="29" lengthAdjust="spacingAndGlyphs">0.21±0.18</text>
<text x="388.8" y="702" font-size="6.2" font-weight="bold" text-anchor="middle" textLength="29" lengthAdjust="spacingAndGlyphs">0.20±0.17</text>
<text x="430" y="702" font-size="6.2" font-weight="bold" text-anchor="middle">1</text>
</svg>
</body></html>
